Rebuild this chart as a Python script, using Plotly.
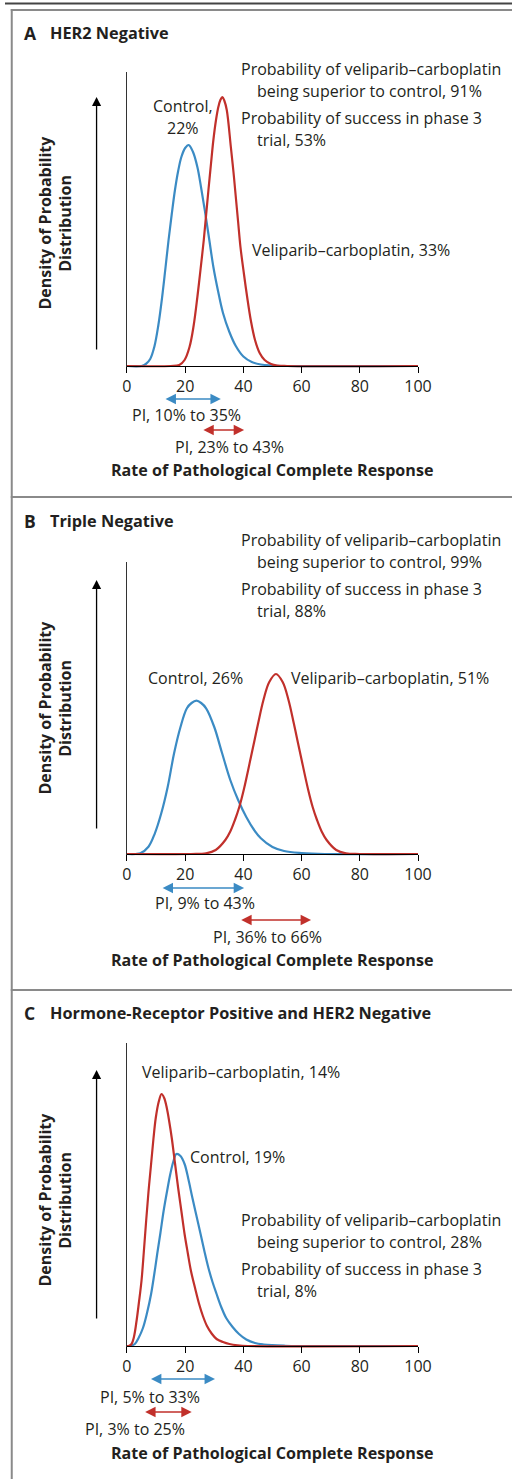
import plotly.graph_objects as go

W, H = 526, 1479

# ---------------- data (density in arbitrary units) ----------------
panel_letters = ["A", "B", "C"]
panel_titles = ["HER2 Negative", "Triple Negative", "Hormone-Receptor Positive and HER2 Negative"]

a_ctrl_x = [0, 5, 6.5, 8, 9.4, 10.8, 12.1, 13.2, 14.3, 15.4, 16.5, 17.6, 18.7, 20, 21.2, 22.7, 24.2, 25.5, 26.9,
            28.3, 29.7, 31.3, 33.0, 35.2, 37.4, 40, 42.9, 46, 49.6, 55, 100]
a_ctrl_y = [0, 0, 2, 7, 19, 41, 69, 97, 126, 152, 176, 195, 209, 218, 221, 214, 199, 178, 153,
            126, 99, 75, 53, 34, 20, 9.5, 4, 1.5, 0.5, 0, 0]
a_veli_x = [0, 15, 18, 19.8, 21.5, 22.9, 24.2, 25.3, 26.4, 27.2, 28, 28.9, 29.7, 30.6, 31.4, 32.1, 32.8, 33.5, 34.3,
            35.7, 36.6, 37.4, 38.2, 39, 40.2, 41.3, 42.6, 44, 45.6, 47.3, 49.5, 51.6, 55, 100]
a_veli_y = [0, 0, 1, 6, 19, 40, 69, 97, 126, 151, 176, 203, 226, 246, 259, 266, 269, 265, 256,
            219, 194, 169, 144, 119, 92, 69, 45, 26, 13, 6, 2, 0.5, 0, 0]

b_ctrl_x = [0, 3, 4.6, 7.4, 9.6, 11.8, 14, 16.2, 18.4, 20.6, 22.2, 23.9, 25.5, 27.2, 30, 32.7, 35.5, 38.2, 41, 43.7,
            46, 50, 54, 60, 68, 100]
b_ctrl_y = [0, 0, 0.7, 7.3, 20.7, 40.7, 67, 100.7, 127, 145.7, 151, 153.3, 151, 145.7, 127, 100.7, 74, 54, 37, 24,
            15.7, 7, 3, 1, 0, 0]
b_veli_x = [0, 22, 27.2, 30.5, 33.8, 35.5, 37.1, 38.6, 40.2, 42.6, 44, 45.1, 46.9, 48.9, 51.2, 53.5, 55.5, 57.3,
            58.4, 59.8, 62.2, 63.8, 65.3, 66.9, 68.6, 71.9, 75.2, 80, 100]
b_veli_y = [0, 0, 0.7, 4, 14, 22.5, 34, 47, 65, 97, 116, 131, 154, 172, 180, 172, 154, 131,
            116, 97, 65, 47, 34, 22.5, 14, 4, 0.7, 0, 0]

c_ctrl_x = [0, 1.5, 2.7, 4, 5.5, 6.9, 8.3, 9.4, 10.4, 11.5, 12.6, 13.8, 14.9, 16, 17, 18.4, 19.8, 21.1, 22.5, 23.9,
            25.3, 26.6, 28, 29.4, 30.8, 32.4, 34.1, 36.3, 38.5, 41, 44, 47, 49.9, 54, 58.6, 100]
c_ctrl_y = [0, 0.3, 2, 8, 18, 33, 52, 72, 92, 113, 135, 155, 172, 185, 192, 190, 182, 167, 148, 130,
            112, 95, 78, 64, 52, 39, 28, 19, 12, 6.5, 3, 1.5, 0.8, 0.3, 0, 0]
c_veli_x = [0, 0.8, 1.6, 2.4, 3.3, 4.1, 5, 5.8, 6.6, 7.4, 8.3, 9.1, 9.9, 10.9, 11.9, 12.8, 13.7, 14.5, 15.4, 16.5,
            17.6, 18.7, 19.8, 20.9, 22, 23.4, 24.8, 26.1, 27.5, 29.1, 30.8, 33, 35.2, 38, 41.5, 100]
c_veli_y = [0, 0.3, 2, 9, 25, 43, 65, 94, 125, 154, 182, 207, 228, 244, 252, 248, 238, 225, 208, 183,
            158, 135, 112, 93, 75, 58, 42, 30, 20, 12.5, 7, 4, 2, 0.7, 0, 0]

ctrl_pi = [(10, 35), (9, 43), (5, 33)]
veli_pi = [(23, 43), (36, 66), (3, 25)]
ctrl_rate = [22, 26, 19]
veli_rate = [33, 51, 14]
prob_superior = [91, 99, 28]
prob_success = [53, 88, 8]

tick_vals = [0, 20, 40, 60, 80, 100]
tick_text = ["0", "20", "40", "60", "80", "100"]

curves = [
    ((a_ctrl_x, a_ctrl_y), (a_veli_x, a_veli_y)),
    ((b_ctrl_x, b_ctrl_y), (b_veli_x, b_veli_y)),
    ((c_ctrl_x, c_ctrl_y), (c_veli_x, c_veli_y)),
]

# ---------------- style / layout ----------------
BLUE = "#3b8bc4"
RED = "#c1302b"
TXT = "#231f20"
FONT = "Open Sans"
FS = 16.0


def px(x):
    return x / W


def py(y):
    return 1 - y / H


# panel geometry (pixels)
title_y = [33, 521, 1013]
axis_top = [72, 562, 1043]
baseline = [366, 854, 1346]
arrow_top = [97, 580, 1070]
arrow_bot = [351, 830, 1320]
x0_px, x100_px = 126.5, 428.5
pi_ctrl_y = [399, 888, 1379]
pi_veli_y = [430, 920, 1412]
pi_ctrl_lab = [(188, 415), (207, 903), (150, 1397)]
pi_veli_lab = [(233, 447), (272, 937), (135, 1429)]
xtitle_y = [470, 960, 1453]
ytitle_c = [223, 708, 1200]

fig = go.Figure()
annotations = []
shapes = []

for i in range(3):
    sx = "" if i == 0 else str(i + 1)
    xa, ya = "x" + sx, "y" + sx
    (cx, cy), (vx, vy) = curves[i]
    fig.add_trace(go.Scatter(x=cx, y=cy, mode="lines", line=dict(color=BLUE, width=2.2, shape="spline", smoothing=1),
                             xaxis=xa, yaxis=ya, showlegend=False, hoverinfo="skip"))
    fig.add_trace(go.Scatter(x=vx, y=vy, mode="lines", line=dict(color=RED, width=2.2, shape="spline", smoothing=1),
                             xaxis=xa, yaxis=ya, showlegend=False, hoverinfo="skip"))
    pad = 2
    hgt = baseline[i] - axis_top[i]
    fig.layout["xaxis" + sx] = dict(
        domain=[px(x0_px), px(x100_px)], range=[0, 100], anchor="free", position=py(baseline[i]),
        showline=True, linecolor="#000", linewidth=1, ticks="outside", ticklen=6, tickcolor="#000",
        tickvals=tick_vals, ticktext=tick_text, showgrid=False, zeroline=False,
        tickfont=dict(family=FONT, size=FS, color=TXT), fixedrange=True)
    fig.layout["yaxis" + sx] = dict(
        domain=[py(baseline[i] + pad), py(axis_top[i])], range=[-pad, hgt], anchor=xa,
        showline=True, linecolor="#333", linewidth=1, ticks="", showticklabels=False,
        showgrid=False, zeroline=False, fixedrange=True)

    # panel titles
    annotations.append(dict(text="<b>%s</b>" % panel_letters[i], x=px(17.5), y=py(title_y[i]), xref="paper", yref="paper",
                            xanchor="left", yanchor="middle", showarrow=False, font=dict(family=FONT, size=17.5, color=TXT)))
    annotations.append(dict(text="<b>%s</b>" % panel_titles[i], x=px(44.5), y=py(title_y[i]), xref="paper", yref="paper",
                            xanchor="left", yanchor="middle", showarrow=False, font=dict(family=FONT, size=16.3, color=TXT)))
    # y axis title
    for t, xx in (("Density of Probability", 41), ("Distribution", 62)):
        annotations.append(dict(text="<b>%s</b>" % t, x=px(xx), y=py(ytitle_c[i]), xref="paper", yref="paper",
                                textangle=-90, xanchor="center", yanchor="middle", showarrow=False,
                                font=dict(family=FONT, size=FS, color=TXT)))
    # vertical arrow
    annotations.append(dict(text="", x=px(95), y=py(arrow_top[i]), ax=0, ay=arrow_bot[i] - arrow_top[i],
                            xref="paper", yref="paper", axref="pixel", ayref="pixel", showarrow=True,
                            arrowhead=2, arrowsize=1.4, arrowwidth=1.3, arrowcolor="#000"))
    # x axis title
    annotations.append(dict(text="<b>Rate of Pathological Complete Response</b>", x=px(277), y=py(xtitle_y[i]),
                            xref="paper", yref="paper", xanchor="center", yanchor="middle", showarrow=False,
                            font=dict(family=FONT, size=16.1, color=TXT)))
    # PI arrows + labels
    for (lo, hi), yy, (lx, ly), col in ((ctrl_pi[i], pi_ctrl_y[i], pi_ctrl_lab[i], BLUE),
                                         (veli_pi[i], pi_veli_y[i], pi_veli_lab[i], RED)):
        annotations.append(dict(text="", x=hi, y=py(yy), ax=lo, ay=0, xref=xa, yref="paper", axref=xa, ayref="pixel",
                                showarrow=True, arrowhead=2, startarrowhead=2, arrowside="end+start",
                                arrowsize=1.3, startarrowsize=1.3, arrowwidth=1.6, arrowcolor=col,
                                standoff=8, startstandoff=8))
        annotations.append(dict(text="PI, %d%% to %d%%" % (lo, hi), x=px(lx), y=py(ly), xref="paper", yref="paper",
                                xanchor="center", yanchor="middle", showarrow=False,
                                font=dict(family=FONT, size=FS, color=TXT)))


def txt(s, x, y, anchor="left"):
    annotations.append(dict(text=s, x=px(x), y=py(y), xref="paper", yref="paper", xanchor=anchor, yanchor="middle",
                            showarrow=False, font=dict(family=FONT, size=FS, color=TXT)))


def prob_block(i, y1):
    txt("Probability of veliparib\u2013carboplatin", 242.5, y1)
    txt("being superior to control, %d%%" % prob_superior[i], 259.5, y1 + 22)
    txt("Probability of success in phase 3", 242.5, y1 + 49)
    txt("trial, %d%%" % prob_success[i], 259.5, y1 + 71)


# Panel A labels
prob_block(0, 69)
txt("Control,", 185, 106, "center")
txt("%d%%" % ctrl_rate[0], 185, 128, "center")
txt("Veliparib\u2013carboplatin, %d%%" % veli_rate[0], 254.5, 250)
# Panel B labels
prob_block(1, 540)
txt("Control, %d%%" % ctrl_rate[1], 198, 678, "center")
txt("Veliparib\u2013carboplatin, %d%%" % veli_rate[1], 294.5, 678)
# Panel C labels
txt("Veliparib\u2013carboplatin, %d%%" % veli_rate[2], 140, 1072)
txt("Control, %d%%" % ctrl_rate[2], 190, 1157)
prob_block(2, 1220)

# frame lines
shapes.append(dict(type="line", xref="paper", yref="paper", x0=0, x1=1, y0=py(3.5), y1=py(3.5),
                   line=dict(color="#444", width=2)))
for yy in (10, 497, 990):
    shapes.append(dict(type="line", xref="paper", yref="paper", x0=px(6), x1=1, y0=py(yy), y1=py(yy),
                       line=dict(color="#8a8a8a", width=2)))
shapes.append(dict(type="line", xref="paper", yref="paper", x0=px(7), x1=px(7), y0=py(9), y1=0,
                   line=dict(color="#8a8a8a", width=2)))

fig.update_layout(width=W, height=H, margin=dict(l=0, r=0, t=0, b=0, pad=0), paper_bgcolor="white",
                  plot_bgcolor="rgba(0,0,0,0)", annotations=annotations, shapes=shapes,
                  font=dict(family=FONT, size=FS, color=TXT))
fig.write_html("out.html", config={"displayModeBar": False, "responsive": False},
               post_script="document.body.style.margin='0px';document.body.style.overflow='hidden';")
